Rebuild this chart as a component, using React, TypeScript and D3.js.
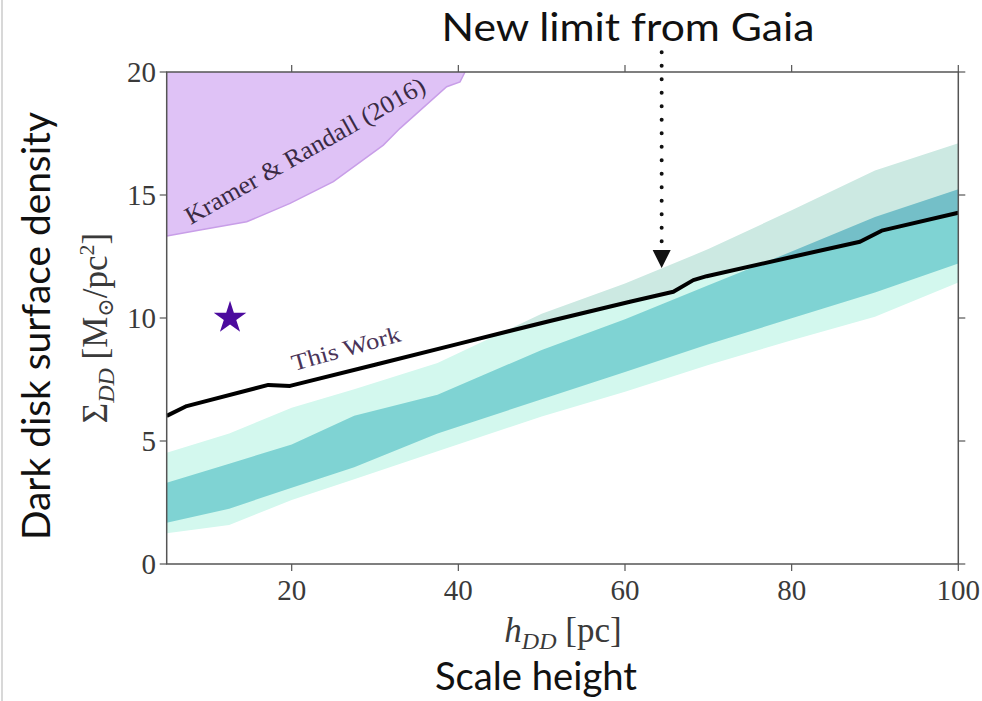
import React, { useEffect, useRef } from 'react';
import * as d3 from 'd3';

// scale height grid (pc) for the posterior bands
const hGrid = [5, 12.5, 20, 27.5, 37.5, 50, 60, 70, 80, 90, 100];
const outerLo = [1.25, 1.59, 2.6, 3.45, 4.58, 6.0, 7.0, 8.09, 9.1, 10.05, 11.44];
const outerHi = [4.52, 5.3, 6.35, 7.1, 8.17, 10.17, 11.4, 12.8, 14.38, 16.0, 17.1];
const innerLo = [1.68, 2.25, 3.1, 3.93, 5.3, 6.7, 7.8, 8.93, 9.99, 11.04, 12.22];
const innerHi = [3.3, 4.08, 4.86, 6.03, 6.88, 8.7, 9.95, 11.33, 12.7, 14.11, 15.23];

// "This Work" upper limit
const limitH = [5, 7.4, 17.2, 19.8, 30, 40, 51, 60.6, 65.8, 68.2, 69.8, 80, 88.2, 90.8, 100];
const limitS = [6.02, 6.42, 7.28, 7.24, 8.1, 8.95, 9.88, 10.66, 11.07, 11.54, 11.7, 12.48, 13.1, 13.55, 14.28];

// Kramer & Randall (2016) excluded region, lower edge
const krH = [5, 9, 14.6, 19.8, 25, 31, 33, 38.6, 40.2, 40.8];
const krS = [13.33, 13.58, 13.91, 14.66, 15.54, 17.03, 17.71, 19.4, 19.6, 20];

const star = { h: 12.6, s: 10 };
const arrow = { h: 64.4, top: 20.8, tip: 12.03 };

const xTicks = [20, 40, 60, 80, 100];
const yTicks = [0, 5, 10, 15, 20];

const W = 982;
const H = 701;
const SERIF = '"Liberation Serif", "DejaVu Serif", serif';
const SANS = 'Lato, "Noto Sans", sans-serif';

export default function App() {
  const ref = useRef<SVGSVGElement>(null);

  useEffect(() => {
    const svg = d3.select(ref.current);
    svg.selectAll('*').remove();

    const x = d3.scaleLinear().domain([5, 100]).range([166.7, 958.3]);
    const y = d3.scaleLinear().domain([0, 20]).range([564, 72]);

    svg.append('rect').attr('width', W).attr('height', H).attr('fill', '#fff');
    svg.append('line').attr('x1', 2).attr('x2', 2).attr('y1', 0).attr('y2', H)
      .attr('stroke', '#d8d8d8').attr('stroke-width', 2);

    const defs = svg.append('defs');
    const lineData = limitH.map((h, i) => ({ h, s: limitS[i] }));

    defs.append('clipPath').attr('id', 'below').append('path')
      .attr('d', d3.area<any>().x(d => x(d.h)).y0(y(0)).y1(d => y(d.s))(lineData));
    defs.append('clipPath').attr('id', 'above').append('path')
      .attr('d', d3.area<any>().x(d => x(d.h)).y0(d => y(d.s)).y1(y(22))(lineData));

    // Kramer & Randall region
    const kr = krH.map((h, i) => ({ h, s: krS[i] }));
    svg.append('path')
      .attr('d', d3.area<any>().x(d => x(d.h)).y0(d => y(d.s)).y1(y(20))(kr))
      .attr('fill', '#dfc2f6');
    svg.append('path')
      .attr('d', d3.line<any>().x(d => x(d.h)).y(d => y(d.s))(kr))
      .attr('fill', 'none').attr('stroke', '#c89ee8').attr('stroke-width', 1.5);

    // bands
    const band = (lo: number[], hi: number[]) =>
      d3.area<number>().x(h => x(h)).y0((_, i) => y(lo[i])).y1((_, i) => y(hi[i]))(hGrid);

    const gBelow = svg.append('g').attr('clip-path', 'url(#below)');
    gBelow.append('path').attr('d', band(outerLo, outerHi)).attr('fill', '#d3f8ee');
    gBelow.append('path').attr('d', band(innerLo, innerHi)).attr('fill', '#7fd3d3');

    const gAbove = svg.append('g').attr('clip-path', 'url(#above)');
    gAbove.append('path').attr('d', band(outerLo, outerHi)).attr('fill', '#cce9e2');
    gAbove.append('path').attr('d', band(innerLo, innerHi)).attr('fill', '#74bfc8');

    // limit line
    svg.append('path')
      .attr('d', d3.line<any>().x(d => x(d.h)).y(d => y(d.s))(lineData))
      .attr('fill', 'none').attr('stroke', '#000').attr('stroke-width', 4)
      .attr('stroke-linejoin', 'round');

    // star
    svg.append('path')
      .attr('d', d3.symbol().type(d3.symbolStar).size(330)())
      .attr('transform', `translate(${x(star.h)},${y(star.s)})`)
      .attr('fill', '#4c0b9e');

    // axes frame
    const axisColor = '#555';
    const frame = svg.append('g');
    frame.append('rect')
      .attr('x', x(5)).attr('y', y(20))
      .attr('width', x(100) - x(5)).attr('height', y(0) - y(20))
      .attr('fill', 'none').attr('stroke', axisColor).attr('stroke-width', 1.5);

    const tl = 7;
    xTicks.forEach(t => {
      frame.append('line').attr('x1', x(t)).attr('x2', x(t)).attr('y1', y(0)).attr('y2', y(0) + tl)
        .attr('stroke', axisColor).attr('stroke-width', 1.2);
      frame.append('line').attr('x1', x(t)).attr('x2', x(t)).attr('y1', y(20)).attr('y2', y(20) - tl)
        .attr('stroke', axisColor).attr('stroke-width', 1.2);
      frame.append('text').attr('x', x(t)).attr('y', 600)
        .attr('text-anchor', 'middle').attr('font-family', SERIF).attr('font-size', 29)
        .attr('fill', '#3a3a3a').text(t);
    });
    yTicks.forEach(t => {
      frame.append('line').attr('x1', x(5)).attr('x2', x(5) - tl).attr('y1', y(t)).attr('y2', y(t))
        .attr('stroke', axisColor).attr('stroke-width', 1.2);
      frame.append('line').attr('x1', x(100)).attr('x2', x(100) + tl).attr('y1', y(t)).attr('y2', y(t))
        .attr('stroke', axisColor).attr('stroke-width', 1.2);
      frame.append('text').attr('x', 156).attr('y', y(t) + 10)
        .attr('text-anchor', 'end').attr('font-family', SERIF).attr('font-size', 29)
        .attr('fill', '#3a3a3a').text(t);
    });

    // annotations
    svg.append('text')
      .attr('transform', `translate(309,158) rotate(-29.5)`)
      .attr('text-anchor', 'middle').attr('font-family', SERIF).attr('font-size', 25)
      .attr('fill', '#3a2a44').attr('textLength', 272).attr('lengthAdjust', 'spacingAndGlyphs')
      .text('Kramer & Randall (2016)');

    svg.append('text')
      .attr('transform', `translate(348,356) rotate(-15.5)`)
      .attr('text-anchor', 'middle').attr('font-family', SERIF).attr('font-size', 23)
      .attr('fill', '#4a3458').attr('textLength', 112).attr('lengthAdjust', 'spacingAndGlyphs')
      .text('This Work');

    // Gaia arrow
    svg.append('line')
      .attr('x1', x(arrow.h)).attr('x2', x(arrow.h))
      .attr('y1', y(arrow.top)).attr('y2', y(arrow.tip) - 22)
      .attr('stroke', '#111').attr('stroke-width', 4).attr('stroke-linecap', 'round')
      .attr('stroke-dasharray', '0 13.5');
    const ax = x(arrow.h), ay = y(arrow.tip);
    svg.append('path')
      .attr('d', `M${ax - 9},${ay - 18}L${ax + 9},${ay - 18}L${ax},${ay}Z`)
      .attr('fill', '#111');

    svg.append('text').attr('x', 628).attr('y', 41)
      .attr('text-anchor', 'middle').attr('font-family', SANS).attr('font-size', 38)
      .attr('fill', '#111').attr('textLength', 373).attr('lengthAdjust', 'spacingAndGlyphs')
      .text('New limit from Gaia');

    // axis labels
    const xl = svg.append('text').attr('x', 563).attr('y', 642)
      .attr('text-anchor', 'middle').attr('font-family', SERIF).attr('font-size', 35).attr('fill', '#3a3a3a');
    xl.append('tspan').attr('font-style', 'italic').text('h');
    xl.append('tspan').attr('font-style', 'italic').attr('font-size', 24).attr('dy', 7).text('DD');
    xl.append('tspan').attr('dy', -7).text(' [pc]');

    const yl = svg.append('text').attr('transform', 'translate(107,328) rotate(-90)')
      .attr('text-anchor', 'middle').attr('font-family', SERIF).attr('font-size', 35).attr('fill', '#3a3a3a');
    yl.append('tspan').text('Σ');
    yl.append('tspan').attr('font-style', 'italic').attr('font-size', 24).attr('dy', 7).text('DD');
    yl.append('tspan').attr('dy', -7).text(' [M');
    yl.append('tspan').attr('font-size', 22).attr('dy', 6).text('⊙');
    yl.append('tspan').attr('dy', -6).text('/pc');
    yl.append('tspan').attr('font-size', 22).attr('dy', -13).text('2');
    yl.append('tspan').attr('dy', 13).text(']');

    svg.append('text').attr('x', 536).attr('y', 690)
      .attr('text-anchor', 'middle').attr('font-family', SANS).attr('font-size', 38)
      .attr('fill', '#111').attr('textLength', 202).attr('lengthAdjust', 'spacingAndGlyphs')
      .text('Scale height');

    svg.append('text').attr('transform', 'translate(50,326) rotate(-90)')
      .attr('text-anchor', 'middle').attr('font-family', SANS).attr('font-size', 38)
      .attr('fill', '#111').attr('textLength', 428).attr('lengthAdjust', 'spacingAndGlyphs')
      .text('Dark disk surface density');
  }, []);

  return (
    <svg ref={ref} width={W} height={H}
      style={{ position: 'absolute', left: 0, top: 0, display: 'block' }} />
  );
}
